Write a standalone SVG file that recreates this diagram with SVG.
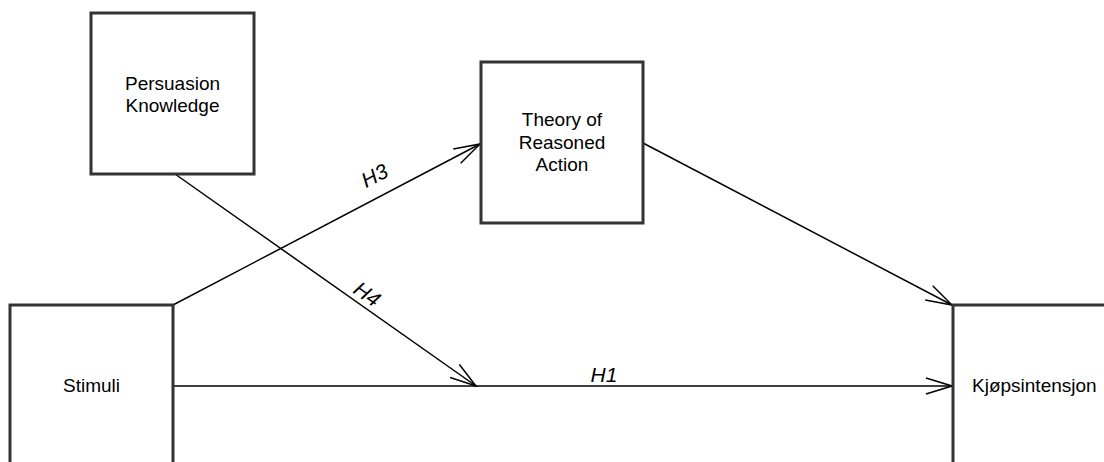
<svg xmlns="http://www.w3.org/2000/svg" width="1104" height="462" viewBox="0 0 1104 462">
<defs>
<style>
.box{fill:#fff;stroke:#333;stroke-width:3}
.t{font-family:"Liberation Sans",Arial,sans-serif;font-size:19px;fill:#000;text-anchor:middle}
.lbl{font-family:"Liberation Sans",Arial,sans-serif;font-size:21px;font-style:italic;fill:#000;text-anchor:middle}
.c{fill:none;stroke:#000;stroke-width:1.5}
</style>
<marker id="arr" viewBox="0 0 30 20" refX="28" refY="10" markerWidth="30" markerHeight="20" markerUnits="userSpaceOnUse" orient="auto">
<path d="M2,2 L28,10 L2,18" fill="none" stroke="#000" stroke-width="1.5"/>
</marker>
</defs>
<rect width="1104" height="462" fill="#fff"/>
<g id="connectors">
<line class="c" x1="173" y1="305" x2="480" y2="144" marker-end="url(#arr)"/>
<line class="c" x1="643" y1="143" x2="952" y2="305" marker-end="url(#arr)"/>
<line class="c" x1="175" y1="174" x2="476" y2="386" marker-end="url(#arr)"/>
<line class="c" x1="173" y1="386" x2="952" y2="386" marker-end="url(#arr)"/>
<text class="lbl" transform="translate(378,182) rotate(-27.7)">H3</text>
<text class="lbl" transform="translate(363,300) rotate(35.3)">H4</text>
<text class="lbl" x="604" y="382">H1</text>
</g>
<g id="persuasion">
<rect class="box" x="91" y="13" width="163" height="161"/>
<text class="t" x="172.5" y="90">Persuasion</text>
<text class="t" x="172.5" y="112">Knowledge</text>
</g>
<g id="theory">
<rect class="box" x="481" y="62" width="162" height="161"/>
<text class="t" x="562" y="126">Theory of</text>
<text class="t" x="562" y="149">Reasoned</text>
<text class="t" x="562" y="171">Action</text>
</g>
<g id="stimuli">
<rect class="box" x="10" y="305" width="163" height="170"/>
<text class="t" x="91.5" y="392">Stimuli</text>
</g>
<g id="kjops">
<rect class="box" x="953" y="305" width="170" height="170"/>
<text class="t" x="972" y="392" style="text-anchor:start">Kjøpsintensjon</text>
</g>
</svg>
